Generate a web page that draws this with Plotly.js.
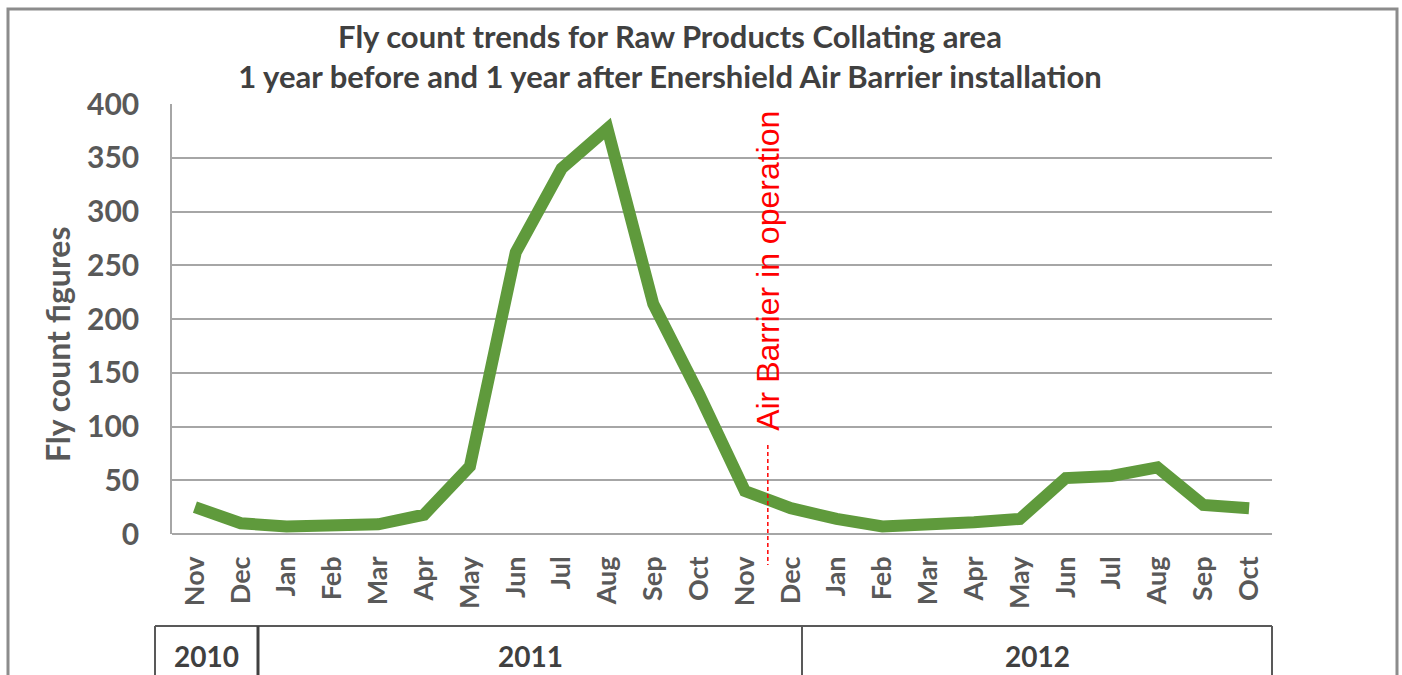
<!DOCTYPE html>
<html>
<head>
<meta charset="utf-8">
<script src="https://cdn.plot.ly/plotly-3.0.1.min.js"></script>
<style>
  html, body { margin: 0; padding: 0; background: #ffffff; }
  #chart { width: 1402px; height: 675px; }
</style>
</head>
<body>
<div id="chart"></div>
<script>
// ---- Data ----
const months = ["Nov", "Dec", "Jan", "Feb", "Mar", "Apr", "May", "Jun", "Jul", "Aug", "Sep", "Oct",
                "Nov", "Dec", "Jan", "Feb", "Mar", "Apr", "May", "Jun", "Jul", "Aug", "Sep", "Oct"];
const years = ["2010", "2010", "2011", "2011", "2011", "2011", "2011", "2011", "2011", "2011", "2011", "2011",
               "2011", "2011", "2012", "2012", "2012", "2012", "2012", "2012", "2012", "2012", "2012", "2012"];
const flyCounts = [25, 10, 7, 9, 9, 18, 63, 262, 340, 377, 214, 130,
                   40, 24, 14, 7, 8, 11, 14, 52, 54, 62, 27, 24];
const yearLabels = ["2010", "2011", "2012"];
const barrierLabel = "Air Barrier in operation";
const chartTitle = "Fly count trends for Raw Products Collating area<br>1 year before and 1 year after Enershield Air Barrier installation";
const yTitle = "Fly count figures";

// categories made unique (index based) while showing month names
const cats = months.map((m, i) => i);

// ---- plot area geometry helpers (paper coords) ----
const L = 172, R = 1272, T = 104, B = 534, W = 1402, H = 675;
const px = v => (v - L) / (R - L);
const py = v => (B - v) / (B - T);

const grey = "#595959";
const font = "Lato, 'Liberation Sans', sans-serif";

const trace = {
  type: "scatter",
  mode: "lines",
  x: cats,
  y: flyCounts,
  line: { color: "#5f9a3c", width: 12, shape: "linear" },
  hoverinfo: "x+y",
  showlegend: false
};

// year table: boundaries (pixel positions in figure)
const yearBounds = [155, 258, 802, 1272];
const shapes = [
  // outer chart frame
  { type: "rect", xref: "paper", yref: "paper", x0: px(8), x1: px(1397), y0: py(720), y1: py(9),
    line: { color: "#8c8c8c", width: 3 }, fillcolor: "rgba(0,0,0,0)", layer: "below" },
  // year table top line
  { type: "line", xref: "paper", yref: "paper", x0: px(yearBounds[0]), x1: px(yearBounds[3]), y0: py(626), y1: py(626),
    line: { color: "#595959", width: 2 } },
  // dashed barrier line
  { type: "line", xref: "x", yref: "paper", x0: 12.5, x1: 12.5, y0: py(445), y1: py(565),
    line: { color: "#ff0000", width: 1.5, dash: "4px,3px" } }
];
yearBounds.forEach((b, i) => {
  shapes.push({ type: "line", xref: "paper", yref: "paper", x0: px(b), x1: px(b), y0: py(626), y1: py(700),
    line: { color: i === 1 ? "#404040" : "#595959", width: i === 1 ? 3 : 2 } });
});

const annotations = [];
yearLabels.forEach((yl, i) => {
  annotations.push({
    xref: "paper", yref: "paper",
    x: px((yearBounds[i] + yearBounds[i + 1]) / 2), y: py(656),
    text: yl, showarrow: false, xanchor: "center", yanchor: "middle",
    font: { family: font, size: 28, color: "#404040", weight: "bold" }
  });
});
annotations.push({
  xref: "x", yref: "paper", x: 12.5, y: py(271),
  text: barrierLabel, showarrow: false, textangle: -90,
  xanchor: "center", yanchor: "middle",
  font: { family: "'Liberation Sans', Arial, sans-serif", size: 32, color: "#ff0000" }
});
annotations.push({
  xref: "paper", yref: "paper", x: px(57), y: py(344),
  text: yTitle, showarrow: false, textangle: -90,
  xanchor: "center", yanchor: "middle",
  font: { family: font, size: 32, color: grey, weight: "bold" }
});

const layout = {
  width: W, height: H,
  paper_bgcolor: "#ffffff",
  plot_bgcolor: "#ffffff",
  margin: { l: L, r: W - R, t: T, b: H - B, pad: 0 },
  title: {
    text: chartTitle,
    x: 670 / W, xanchor: "center",
    y: 1 - 48 / H, yanchor: "middle", yref: "container",
    font: { family: font, size: 31, color: "#404040", weight: "bold" }
  },
  xaxis: {
    type: "category",
    range: [-0.5, 23.5],
    tickmode: "array",
    tickvals: cats,
    ticktext: months,
    tickangle: -90,
    showgrid: false,
    showline: false,
    zeroline: false,
    ticks: "",
    ticklabelstandoff: 16,
    tickfont: { family: font, size: 27, color: grey, weight: "bold" },
    fixedrange: true
  },
  yaxis: {
    range: [0, 400],
    dtick: 50,
    tick0: 0,
    showgrid: true,
    gridcolor: "#a6a6a6",
    gridwidth: 1.5,
    showline: true,
    linecolor: "#a6a6a6",
    linewidth: 1.5,
    zeroline: true,
    zerolinecolor: "#a6a6a6",
    zerolinewidth: 1.5,
    ticks: "",
    ticklabelstandoff: 25,
    tickfont: { family: font, size: 30, color: grey, weight: "bold" },
    fixedrange: true
  },
  shapes: shapes,
  annotations: annotations
};

Plotly.newPlot("chart", [trace], layout, { displayModeBar: false, staticPlot: false });
</script>
</body>
</html>
